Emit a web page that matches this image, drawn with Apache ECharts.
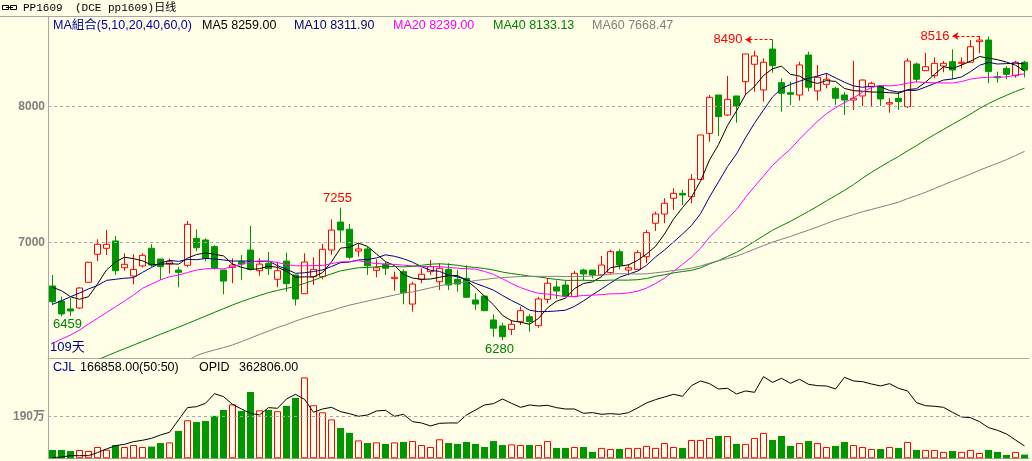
<!DOCTYPE html>
<html><head><meta charset="utf-8">
<script src="https://cdn.jsdelivr.net/npm/echarts@6/dist/echarts.min.js"></script>
<style>html,body{margin:0;padding:0;background:#FFFFE8;}#c{width:1032px;height:461px;}</style>
</head><body><div id="c"></div>
<script>
// ---- data ----
const categories = Array.from({length: 109}, (_, i) => 'D' + (i + 1));
const opens = [6679,6568,6510,6517,6706,6912,6956,7010,6813,6752,6826,6956,6877,6840,6796,6831,7029,7017,6968,6796,6816,6857,6943,6791,6846,6728,6862,6760,6622,6747,6747,6943,7149,7096,6936,6951,6794,6840,6733,6784,6546,6728,6784,6710,6801,6728,6735,6576,6605,6429,6385,6360,6416,6453,6387,6581,6672,6686,6600,6796,6796,6760,6777,6931,6796,6801,6894,7140,7208,7324,7360,7335,7463,7801,8083,7936,8076,8181,8309,8120,8421,8174,8100,8083,8377,8113,8162,8132,8083,8046,8076,8144,8150,8017,8059,7997,8311,8262,8225,8296,8328,8316,8324,8475,8487,8218,8279,8225,8324];
const closes = [6563,6473,6495,6664,6853,6985,6985,6791,6838,6801,6904,6833,6821,6857,6779,7132,6960,6882,6809,6715,6833,6840,6801,6840,6806,6791,6696,6583,6855,6801,6949,7090,7090,6890,6951,6828,6813,6809,6743,6629,6693,6765,6821,6809,6686,6693,6596,6546,6497,6368,6306,6397,6497,6416,6583,6699,6642,6605,6772,6767,6760,6833,6931,6833,6813,6924,7071,7208,7287,7360,7348,7463,7789,8066,7924,8051,8002,8385,8370,8324,8299,8096,8088,8304,8140,8213,8199,8059,8046,8059,8193,8169,8054,8027,8034,8333,8199,8291,8316,8316,8267,8324,8438,8487,8255,8210,8235,8324,8267];
const lows = [6539,6455,6459,6510,6706,6862,6907,6760,6791,6691,6815,6820,6723,6770,6669,6818,6935,6860,6800,6618,6699,6723,6791,6754,6760,6669,6637,6535,6622,6686,6728,6907,6997,6875,6894,6760,6743,6760,6644,6544,6490,6699,6760,6649,6649,6637,6590,6502,6497,6306,6280,6318,6392,6343,6370,6551,6586,6600,6600,6720,6735,6747,6765,6801,6757,6796,6846,7083,7140,7238,7274,7287,7463,7740,7781,7929,7879,8083,8107,8034,8247,7960,8010,8041,8110,8041,8132,8010,7936,7973,8002,8002,8002,7953,7973,7988,8174,8262,8206,8250,8199,8279,8324,8390,8169,8174,8199,8210,8213];
const highs = [6760,6600,6590,6670,6853,7022,7090,7046,6919,6912,6919,6987,6877,6880,6820,7157,7095,7029,6980,6796,6882,6907,7120,6882,6929,6857,6924,6760,6919,6890,6988,7169,7255,7135,6993,6968,6875,6855,6784,6801,6710,6809,6870,6846,6846,6796,6831,6625,6605,6471,6409,6429,6527,6471,6600,6735,6720,6718,6790,6806,6796,6899,6945,6949,6840,6943,7090,7225,7324,7397,7385,7502,7789,8083,8083,8223,8076,8385,8409,8353,8490,8206,8181,8328,8402,8304,8243,8144,8107,8335,8199,8181,8150,8059,8107,8353,8321,8394,8360,8333,8419,8360,8488,8516,8512,8255,8294,8335,8335];
const ma5 = [6669,6644,6600,6581,6600,6694,6796,6856,6890,6880,6864,6833,6839,6843,6839,6884,6910,6922,6912,6900,6840,6816,6800,6806,6824,6816,6787,6743,6746,6745,6777,6856,6957,6964,6994,6970,6914,6858,6829,6764,6737,6728,6730,6743,6755,6755,6721,6666,6604,6540,6463,6423,6413,6397,6440,6518,6567,6589,6660,6697,6709,6747,6813,6825,6834,6867,6914,6970,7061,7170,7255,7333,7449,7605,7718,7859,7966,8086,8146,8226,8276,8295,8235,8222,8185,8168,8189,8183,8131,8115,8111,8105,8104,8100,8095,8123,8129,8177,8235,8291,8278,8303,8332,8366,8354,8343,8325,8302,8259];
const ma10 = [6544,6570,6600,6627,6657,6682,6720,6728,6736,6740,6779,6815,6848,6867,6860,6874,6872,6881,6878,6870,6862,6863,6861,6859,6862,6828,6802,6772,6776,6785,6797,6822,6850,6855,6870,6874,6885,6908,6897,6879,6854,6821,6794,6786,6760,6746,6725,6698,6674,6648,6609,6572,6540,6501,6490,6491,6495,6501,6529,6569,6614,6657,6701,6743,6766,6788,6831,6892,6943,7002,7061,7124,7210,7333,7444,7557,7650,7768,7876,7972,8068,8131,8161,8184,8206,8222,8242,8209,8177,8150,8140,8147,8144,8116,8105,8117,8117,8141,8168,8193,8201,8216,8255,8301,8323,8311,8314,8317,8311.9];
const ma20 = [6257,6289,6318,6355,6399,6441,6484,6526,6568,6612,6662,6693,6724,6747,6759,6778,6796,6805,6807,6805,6821,6839,6855,6863,6861,6851,6837,6827,6827,6828,6830,6843,6856,6857,6866,6851,6844,6840,6837,6832,6826,6822,6822,6821,6815,6810,6805,6803,6786,6764,6732,6697,6667,6644,6625,6619,6610,6600,6602,6609,6612,6615,6621,6622,6628,6640,6663,6697,6736,6786,6838,6891,6956,7038,7105,7173,7241,7330,7410,7487,7565,7628,7686,7759,7825,7890,7946,7989,8027,8061,8104,8139,8153,8150,8156,8170,8180,8175,8173,8172,8171,8182,8200,8209,8214,8214,8216,8229,8239];
const ma40 = [null,null,null,null,null,6135,6164,6191,6218,6244,6271,6297,6324,6350,6376,6403,6430,6457,6485,6512,6539,6564,6587,6609,6630,6646,6661,6677,6698,6720,6746,6768,6790,6802,6813,6815,6820,6823,6822,6819,6824,6831,6839,6842,6838,6831,6821,6815,6807,6796,6781,6770,6762,6751,6746,6735,6727,6720,6720,6721,6719,6719,6722,6722,6722,6725,6734,6750,6761,6775,6785,6794,6812,6841,6865,6896,6926,6965,7006,7048,7089,7122,7154,7191,7227,7265,7305,7343,7382,7424,7471,7515,7555,7594,7631,7672,7711,7753,7792,7830,7868,7905,7943,7984,8020,8052,8081,8109,8133.13];
const ma60 = [null,null,null,null,null,null,null,null,null,null,null,null,null,null,null,6130,6167,6190,6208,6226,6245,6270,6296,6322,6347,6373,6395,6421,6443,6463,6482,6498,6520,6538,6553,6568,6583,6598,6612,6627,6635,6650,6665,6680,6692,6701,6709,6719,6727,6735,6741,6744,6749,6749,6750,6749,6750,6748,6749,6749,6753,6759,6766,6769,6768,6767,6768,6776,6783,6793,6800,6810,6826,6846,6865,6881,6898,6923,6950,6976,7001,7022,7043,7067,7089,7113,7138,7163,7183,7204,7225,7242,7259,7277,7295,7321,7344,7368,7395,7423,7449,7475,7502,7530,7556,7581,7608,7638,7668.47];
// volume (万手)
const volume = [37.7,37.7,33,37.7,33,51,39,60,51,60,51,53,69,72,124,172,164,169,192,219,244,214,300,217,219,213,237,273,366,240,208,176,137,115,81,69,72,65,72,74,78,60,51,86,69,65,74,65,51,78,60,63,60,60,60,78,47,47,51,51,29,47,42,42,47,47,56,47,69,51,47,83,83,92,101,101,65,65,92,115,83,101,56,69,78,69,51,56,74,60,51,42,42,51,47,74,38,38,38,29,33,29,38,24,38,29,15,29,16.69];
// open interest (万手)
const openInterest = [2.0,3.9,7.8,7.8,7.8,16.7,27.4,37.2,41.2,49.0,52.9,58.8,68.6,76.4,112.7,149.0,151.9,161.7,190.1,181.3,158.8,145.0,132.3,127.4,149.0,147.0,174.4,188.2,173.5,135.2,145.0,149.9,137.2,131.3,123.5,127.4,139.2,141.1,123.5,129.4,107.8,103.9,95.1,102.9,103.9,103.9,127.4,142.1,156.8,160.7,174.4,161.7,149.9,156.8,153.9,155.8,149.0,145.0,145.0,132.3,134.3,129.4,131.3,129.4,134.3,148.0,162.7,172.5,180.3,188.2,182.3,213.6,227.4,219.5,203.8,205.8,189.1,198.0,194.0,240.1,223.4,235.2,220.5,232.3,217.6,213.6,212.7,203.8,238.1,227.4,225.4,218.5,212.7,219.5,205.8,198.0,163.7,154.8,152.9,149.9,135.2,121.5,119.6,107.8,90.2,82.3,71.5,53.9,36.28];
const priceTicks = [7000, 8000];
const volumeTicks = [190];
const highMarks = [{i: 32, v: 7255}];
const lowMarks = [{i: 2, v: 6459}, {i: 50, v: 6280}];
const arrowMarks = [{i: 80, from: 77, v: 8490}, {i: 103, from: 100, v: 8516}];
const headerTexts = ['PP1609', '(DCE pp1609)日线'];
const legendTexts = ['MA組合(5,10,20,40,60,0)', 'MA5 8259.00', 'MA10 8311.90', 'MA20 8239.00', 'MA40 8133.13', 'MA60 7668.47'];
const volTexts = ['CJL', '166858.00(50:50)', 'OPID', '362806.00'];
const daysText = '109天';

// ---- chart ----
const BG = '#FFFFE8';
const RED = '#FF0000';
const GREEN = '#009600';
const AX = '#A8A8A8';
const SANS = '"Liberation Sans","Noto Sans CJK SC",sans-serif';
const chart = echarts.init(document.getElementById('c'));
const candleData = opens.map((o, i) => [o, closes[i], lows[i], highs[i]]);
const volData = volume.map((v, i) => ({
  value: v,
  itemStyle: closes[i] >= opens[i]
    ? {color: BG, borderColor: RED, borderWidth: 1}
    : {color: GREEN, borderWidth: 0}
}));
const catAxis = (g) => ({type: 'category', data: categories, gridIndex: g, boundaryGap: true,
  axisLine: {show: true, onZero: false, lineStyle: {color: AX}}, axisTick: {show: false},
  axisLabel: {show: false}, splitLine: {show: false}});
const valAxisStyle = {axisLine: {show: true, lineStyle: {color: AX}}, axisTick: {show: false},
  axisLabel: {show: false}, splitLine: {show: false}};
const tickLabel = {show: true, position: 'start', distance: 3, color: '#808080', fontWeight: 'bold',
  fontSize: 12, fontFamily: SANS};
const maLine = (name, data, color) => ({type: 'line', name, data, xAxisIndex: 0, yAxisIndex: 0,
  symbol: 'none', showSymbol: false, lineStyle: {color, width: 1}, itemStyle: {color}, z: 3, silent: true});

function txt(x, y, text, fill, font) {
  return {type: 'text', x, y, silent: true,
    style: {text, fill, font: font || ('12.5px ' + SANS), align: 'left', verticalAlign: 'middle'}};
}
const legendColors = ['#0000A0', '#000000', '#000080', '#FF00FF', '#008000', '#808080'];
const legendX = [53, 202, 294, 393, 493, 592];
const volColors = ['#0000A0', '#000000', '#000000', '#000000'];
const volX = [53, 80, 199, 239];

const option = {
  animation: false,
  backgroundColor: BG,
  grid: [
    {left: 48, right: 3, top: 17, height: 341},
    {left: 48, right: 3, top: 359, height: 99.3}
  ],
  xAxis: [catAxis(0), catAxis(1)],
  yAxis: [
    Object.assign({gridIndex: 0, type: 'value', min: 6149.3, max: 8656.6}, valAxisStyle),
    Object.assign({gridIndex: 1, type: 'value', min: 0, max: 449.2}, valAxisStyle),
    {gridIndex: 1, type: 'value', min: 0, max: 292, show: false}
  ],
  series: [
    {type: 'candlestick', name: 'K', xAxisIndex: 0, yAxisIndex: 0, data: candleData, barWidth: 7,
      itemStyle: {color: BG, color0: GREEN, borderColor: RED, borderColor0: GREEN, borderWidth: 1},
      markLine: {silent: true, symbol: 'none', animation: false,
        lineStyle: {color: AX, type: [3, 3], width: 1},
        label: Object.assign({formatter: (p) => String(p.value)}, tickLabel),
        data: priceTicks.map(v => ({yAxis: v}))},
      markPoint: {silent: true, animation: false, symbol: 'rect', symbolSize: 1,
        itemStyle: {color: 'rgba(0,0,0,0)'},
        data: highMarks.map(m => ({coord: [categories[m.i], m.v], value: m.v,
            label: {show: true, position: 'top', distance: 2, offset: [-3, 0], color: RED, fontSize: 13, fontFamily: SANS, formatter: String(m.v)}}))
          .concat(lowMarks.map(m => ({coord: [categories[m.i], m.v], value: m.v,
            label: {show: true, position: 'bottom', distance: 2, offset: [-3, 0], color: '#008000', fontSize: 13, fontFamily: SANS, formatter: String(m.v)}})))}
    },
    Object.assign(maLine('MA5', ma5, '#000000'), {
      markLine: {silent: true, animation: false,
        lineStyle: {color: RED, type: [3, 2], width: 1},
        label: {show: true, position: 'end', distance: 3, color: RED, fontSize: 13, fontFamily: SANS},
        data: arrowMarks.map(m => [
          {coord: [categories[m.i], m.v], symbol: 'none'},
          {coord: [categories[m.from], m.v], symbol: 'arrow', symbolSize: [6, 6], value: m.v,
            label: {formatter: String(m.v)}}
        ])}
    }),
    maLine('MA10', ma10, '#000080'),
    maLine('MA20', ma20, '#FF00FF'),
    maLine('MA40', ma40, '#008000'),
    maLine('MA60', ma60, '#808080'),
    {type: 'bar', name: 'CJL', xAxisIndex: 1, yAxisIndex: 1, data: volData, barWidth: 7, silent: true,
      markLine: {silent: true, symbol: 'none', animation: false,
        lineStyle: {color: AX, type: [3, 3], width: 1},
        label: Object.assign({formatter: (p) => p.value + '万'}, tickLabel),
        data: volumeTicks.map(v => ({yAxis: v}))}},
    {type: 'line', name: 'OPID', xAxisIndex: 1, yAxisIndex: 2, data: openInterest, symbol: 'none',
      showSymbol: false, lineStyle: {color: '#000000', width: 1}, itemStyle: {color: '#000'}, z: 3, silent: true}
  ],
  graphic: [
    {type: 'line', silent: true, shape: {x1: 0, y1: 16.5, x2: 1032, y2: 16.5}, style: {stroke: AX, lineWidth: 1}},
    {type: 'rect', silent: true, shape: {x: 2.5, y: 5.5, width: 6, height: 4}, style: {fill: 'none', stroke: '#000', lineWidth: 1}},
    {type: 'rect', silent: true, shape: {x: 10.5, y: 5.5, width: 6, height: 4}, style: {fill: 'none', stroke: '#000', lineWidth: 1}},
    {type: 'line', silent: true, shape: {x1: 6, y1: 7.5, x2: 13, y2: 7.5}, style: {stroke: '#000', lineWidth: 1}},
    txt(23, 8, headerTexts[0], '#000', '11px "Liberation Mono",monospace'),
    txt(75, 8, headerTexts[1], '#000', '11px "Liberation Mono","Noto Sans CJK SC",monospace'),
    ...legendTexts.map((t, k) => txt(legendX[k], 26, t, legendColors[k])),
    ...volTexts.map((t, k) => txt(volX[k], 368, t, volColors[k])),
    txt(50, 347, daysText, '#000080', '13px ' + SANS)
  ]
};
chart.setOption(option);
</script>
</body></html>
